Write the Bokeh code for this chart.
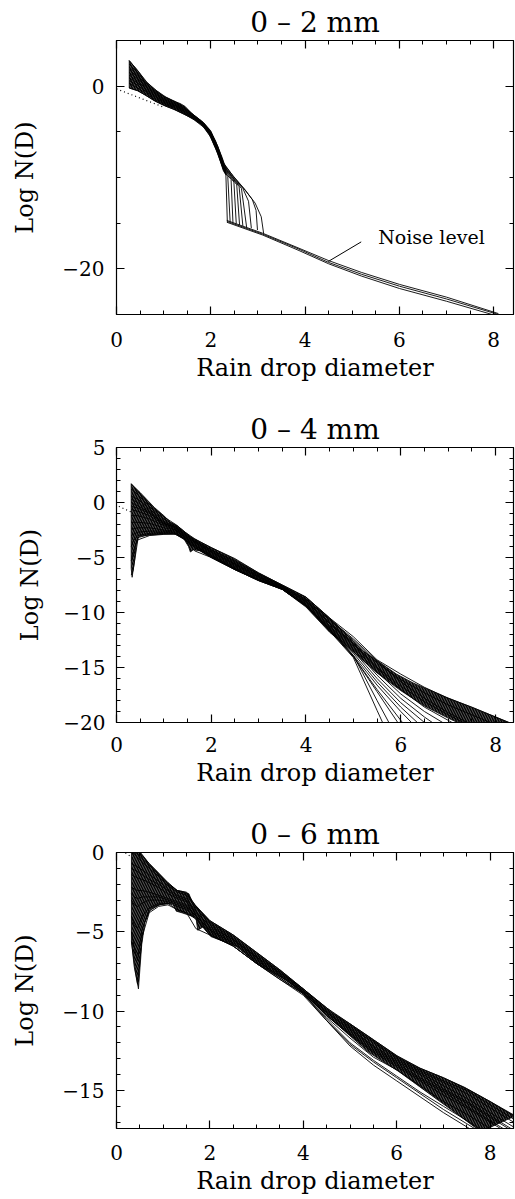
from bokeh.plotting import figure
from bokeh.layouts import column
from bokeh.models import FixedTicker, LinearAxis, Range1d, Label
from bokeh.embed import file_html
from bokeh.resources import INLINE

FONT = "DejaVu Serif"

# ---------------- shared axis ticks ----------------
X_TICKS = [0, 2, 4, 6, 8]
X_MINOR = [0.5, 1, 1.5, 2.5, 3, 3.5, 4.5, 5, 5.5, 6.5, 7, 7.5, 8.5]
X_LABEL = "Rain drop diameter"
Y_LABEL = "Log N(D)"

# ---------------- panel 1 : 0 - 2 mm ----------------
P1_TITLE = "0 – 2 mm"
P1_XRANGE = [0, 8.42]
P1_YRANGE = [-25, 5]
P1_YTICKS = [-20, 0]
P1_YMINOR = [-25, -15, -10, -5, 5]
P1_HEAD_X = [0.27, 0.45, 0.65, 0.85, 1.05, 1.25, 1.45, 1.65, 1.85, 2.0, 2.15, 2.27]
P1_HEAD_Y = [
    [2.8, 1.7, 0.4, -0.5, -1.2, -1.7, -2.35, -3.2, -4.0, -4.9, -6.6, -8.4],
    [2.4, 1.45, 0.2, -0.65, -1.3, -1.8, -2.45, -3.25, -4.05, -5.0, -6.7, -8.5],
    [2.1, 1.2, 0.05, -0.8, -1.45, -1.9, -2.5, -3.3, -4.1, -5.1, -6.8, -8.6],
    [1.8, 1.0, -0.1, -0.9, -1.55, -2.0, -2.6, -3.35, -4.15, -5.15, -6.85, -8.7],
    [1.5, 0.8, -0.25, -1.0, -1.65, -2.1, -2.65, -3.4, -4.2, -5.2, -6.9, -8.8],
    [1.2, 0.55, -0.4, -1.15, -1.75, -2.15, -2.75, -3.45, -4.25, -5.3, -7.0, -8.9],
    [0.9, 0.35, -0.55, -1.25, -1.85, -2.25, -2.8, -3.5, -4.3, -5.35, -7.1, -9.0],
    [0.6, 0.1, -0.7, -1.4, -1.95, -2.35, -2.9, -3.55, -4.35, -5.4, -7.2, -9.1],
    [0.3, -0.2, -0.9, -1.55, -2.05, -2.45, -3.0, -3.6, -4.4, -5.5, -7.3, -9.2],
    [-0.2, -0.5, -1.1, -1.7, -2.2, -2.6, -3.1, -3.7, -4.5, -5.6, -7.4, -9.3],
]
P1_DROP_X = [
    [2.48, 2.73, 2.94, 3.07, 3.12],
    [2.47, 2.72, 2.88, 2.96, 2.99],
    [2.46, 2.68, 2.80, 2.86],
    [2.45, 2.65, 2.76],
    [2.44, 2.60, 2.68],
    [2.42, 2.55, 2.61],
    [2.40, 2.49, 2.54],
    [2.36, 2.43, 2.47],
    [2.36, 2.41],
    [2.32, 2.35],
]
P1_DROP_Y = [
    [-9.9, -11.4, -12.8, -14.3, -16.1],
    [-9.8, -11.3, -12.4, -13.6, -15.75],
    [-9.9, -11.2, -12.6, -15.55],
    [-9.9, -11.2, -15.45],
    [-9.9, -11.0, -15.3],
    [-9.9, -10.8, -15.2],
    [-9.9, -10.5, -15.05],
    [-9.8, -10.2, -14.95],
    [-9.9, -14.85],
    [-9.7, -14.75],
]
P1_TAIL_X = [2.34, 3.1, 3.85, 4.5, 5.2, 6.0, 7.0, 8.1]
P1_TAIL_Y = [
    [-14.7, -16.1, -17.7, -19.1, -20.4, -21.7, -23.1, -24.9],
    [-14.8, -16.2, -17.8, -19.3, -20.6, -21.9, -23.3, -25.0],
    [-14.9, -16.3, -17.95, -19.45, -20.8, -22.15, -23.55, -25.2],
]
P1_BAND_UP_X = [0.27, 0.45, 0.62, 0.8, 1.0, 1.2, 1.35, 1.45, 1.6, 1.8, 1.96, 2.1, 2.24, 2.32]
P1_BAND_UP_Y = [2.8, 1.7, 0.5, -0.3, -1.1, -1.6, -1.9, -2.2, -3.0, -3.8, -4.7, -6.0, -7.8, -9.0]
P1_BAND_LO_X = [0.27, 0.45, 0.62, 0.8, 1.0, 1.2, 1.4, 1.6, 1.8, 1.96, 2.1, 2.24, 2.32]
P1_BAND_LO_Y = [-0.2, -0.5, -1.0, -1.6, -2.1, -2.5, -3.0, -3.5, -4.2, -5.2, -6.8, -8.7, -9.7]
P1_DOT_X = [0.0, 1.0]
P1_DOT_Y = [-0.3, -2.3]
NOISE_TEXT = "Noise level"
NOISE_POS = [5.55, -16.5]
NOISE_PTR_X = [5.19, 4.49]
NOISE_PTR_Y = [-17.05, -19.2]

# ---------------- panel 2 : 0 - 4 mm ----------------
P2_TITLE = "0 – 4 mm"
P2_XRANGE = [0, 8.38]
P2_YRANGE = [-20, 5]
P2_YTICKS = [-20, -15, -10, -5, 0, 5]
P2_YMINOR = [-19, -18, -17, -16, -14, -13, -12, -11, -9, -8, -7, -6, -4, -3, -2, -1, 1, 2, 3, 4]
P2_X = [0.31, 0.35, 0.45, 0.7, 1.0, 1.25, 1.45, 1.65, 2.0, 2.5, 3.0, 3.5, 4.0, 4.5,
        5.0, 5.5, 6.0, 6.5, 7.0, 7.5, 8.0, 8.5]
P2_Y = [
    [1.7, 1.5, 1.0, -0.2, -1.3, -2.0, -2.7, -3.3, -4.1, -5.1, -6.4, -7.5, -8.6, -10.5, -12.2, -14.3, -15.6, -16.8, -17.8, -18.6, -19.5, -20.4],
    [1.2, 1.1, 0.7, -0.4, -1.5, -2.1, -2.8, -3.4, -4.3, -5.3, -6.5, -7.6, -8.8, -10.7, -12.5, -14.6, -16.1, -17.3, -18.4, -19.3, -20.2],
    [0.3, 0.2, 0.0, -0.8, -1.8, -2.2, -2.9, -3.5, -4.3, -5.4, -6.5, -7.6, -8.8, -10.6, -12.4, -14.4, -16.3, -17.8, -19.1, -20.2],
    [0.6, 0.5, 0.3, -0.6, -1.7, -2.2, -2.9, -3.5, -4.4, -5.5, -6.6, -7.6, -8.9, -10.9, -12.8, -15.0, -16.7, -18.1, -19.3, -20.4],
    [-0.3, -0.4, -0.5, -1.0, -1.9, -2.3, -3.0, -3.6, -4.5, -5.6, -6.7, -7.7, -9.0, -11.0, -12.9, -15.1, -17.0, -18.6, -19.8, -21.0],
    [0.0, -0.1, -0.3, -0.9, -1.9, -2.3, -3.0, -3.6, -4.5, -5.6, -6.7, -7.7, -9.0, -11.0, -13.1, -15.4, -17.4, -19.0, -20.3],
    [-0.6, -0.7, -0.8, -1.2, -2.0, -2.4, -3.1, -3.7, -4.6, -5.7, -6.8, -7.7, -9.1, -11.2, -13.3, -15.7, -17.8, -19.5, -21.0],
    [-1.2, -1.2, -1.2, -1.5, -2.1, -2.5, -3.1, -3.8, -4.7, -5.8, -6.8, -7.8, -9.2, -11.3, -13.5, -16.0, -18.2, -20.0, -21.5],
    [-1.8, -1.8, -1.8, -1.9, -2.3, -2.5, -3.2, -3.9, -4.8, -5.9, -6.9, -7.8, -9.3, -11.4, -13.7, -16.3, -18.6, -20.6],
    [-2.4, -2.4, -2.3, -2.3, -2.5, -2.6, -3.2, -3.9, -4.8, -6.0, -7.0, -7.8, -9.3, -11.5, -13.9, -16.6, -19.0, -21.2],
    [-3.0, -2.9, -2.7, -2.6, -2.6, -2.7, -3.3, -4.0, -4.9, -6.1, -7.0, -7.9, -9.4, -11.6, -14.0, -17.0, -19.8, -22.5],
    [-6.6, -6.2, -3.4, -3.0, -2.9, -2.9, -3.4, -4.1, -5.0, -6.1, -7.1, -7.9, -9.4, -11.6, -14.0, -17.2, -20.4],
    [-5.3, -4.7, -3.2, -2.9, -2.8, -2.8, -3.4, -4.1, -4.9, -6.0, -7.0, -7.8, -9.3, -11.5, -13.9, -18.0, -22.0],
    [-4.0, -3.5, -3.0, -2.8, -2.7, -2.8, -3.3, -4.4, -5.0, -6.1, -7.1, -7.9, -9.4, -11.7, -14.1, -18.9, -23.6],
]
P2_BAND_UP_X = [0.31, 0.5, 0.8, 1.0, 1.14, 1.28, 1.42, 1.56, 1.77, 2.0, 2.47, 3.0, 3.5, 4.0,
                4.5, 5.21, 5.91, 6.26, 6.96, 7.66, 8.29, 8.4]
P2_BAND_UP_Y = [1.7, 0.9, -0.45, -1.2, -1.8, -2.1, -2.6, -3.1, -3.6, -4.1, -5.1, -6.4, -7.5, -8.6,
                -10.5, -13.5, -15.6, -16.4, -17.7, -18.9, -20.0, -20.2]
P2_BAND_LO_X = [0.31, 0.33, 0.36, 0.38, 0.42, 0.47, 0.6, 0.9, 1.2, 1.42, 1.52, 1.56, 1.62, 1.77,
                2.0, 2.5, 3.0, 3.5, 4.0, 4.5, 5.0, 5.5, 6.0, 6.5, 7.0, 7.3]
P2_BAND_LO_Y = [-6.0, -6.8, -5.9, -5.3, -3.8, -3.1, -3.0, -2.9, -2.8, -3.3, -4.0, -4.5, -4.3, -4.4,
                -5.0, -6.1, -7.1, -7.9, -9.5, -11.8, -13.6, -15.5, -17.1, -18.5, -19.6, -20.2]
P2_DOT_X = [0.05, 0.3]
P2_DOT_Y = [-0.35, -0.85]

# ---------------- panel 3 : 0 - 6 mm ----------------
P3_TITLE = "0 – 6 mm"
P3_XRANGE = [0, 8.5]
P3_YRANGE = [-17.4, 0]
P3_YTICKS = [-15, -10, -5, 0]
P3_YMINOR = [-17, -16, -14, -13, -12, -11, -9, -8, -7, -6, -4, -3, -2, -1]
P3_X = [0.32, 0.38, 0.45, 0.55, 0.7, 0.9, 1.1, 1.3, 1.5, 1.7, 2.0, 2.5, 3.0, 3.5, 4.0, 4.5,
        5.0, 5.5, 6.0, 6.5, 7.0, 7.5, 8.0, 8.5]
P3_Y = [
    [0.6, 0.4, 0.1, -0.2, -0.7, -1.3, -1.9, -2.4, -2.5, -3.4, -4.3, -5.2, -6.3, -7.4, -8.6, -9.8, -10.8, -11.8, -12.8, -13.6, -14.2, -14.9, -15.7, -16.6],
    [0.3, 0.1, -0.1, -0.4, -0.8, -1.4, -2.0, -2.4, -2.6, -3.4, -4.4, -5.3, -6.4, -7.5, -8.6, -9.9, -10.9, -11.9, -12.9, -13.7, -14.4, -15.0, -15.9, -16.8],
    [0.0, -0.1, -0.3, -0.6, -1.0, -1.5, -2.1, -2.5, -2.7, -3.5, -4.5, -5.4, -6.5, -7.5, -8.7, -10.0, -11.0, -12.0, -13.0, -13.8, -14.5, -15.2, -16.1, -17.0],
    [-0.7, -0.8, -0.9, -1.1, -1.4, -1.8, -2.3, -2.7, -2.9, -3.7, -4.7, -5.5, -6.6, -7.6, -8.7, -10.1, -11.1, -12.2, -13.1, -13.9, -14.7, -15.5, -16.4, -17.3],
    [-1.0, -1.1, -1.2, -1.4, -1.7, -2.0, -2.4, -2.8, -3.0, -3.8, -4.6, -5.5, -6.6, -7.6, -8.7, -10.1, -11.2, -12.3, -13.2, -14.0, -14.9, -15.7, -16.6, -17.5],
    [-1.4, -1.5, -1.6, -1.7, -1.9, -2.2, -2.6, -2.9, -3.1, -3.9, -4.8, -5.6, -6.7, -7.7, -8.8, -10.2, -11.3, -12.4, -13.3, -14.2, -15.0, -15.8, -16.7, -17.6],
    [-2.2, -2.3, -2.4, -2.4, -2.5, -2.7, -2.9, -3.1, -3.3, -4.0, -4.9, -5.7, -6.8, -7.8, -8.8, -10.3, -11.5, -12.6, -13.5, -14.4, -15.3, -16.1, -17.0, -17.9],
    [-2.6, -2.8, -2.9, -2.8, -2.8, -2.8, -3.0, -3.2, -3.4, -4.0, -4.9, -5.7, -6.8, -7.8, -8.8, -10.3, -11.4, -12.5, -13.4, -14.3, -15.1, -16.0, -16.9, -17.8],
    [-3.0, -3.3, -3.4, -3.2, -3.0, -3.0, -3.1, -3.3, -3.5, -4.1, -5.0, -5.8, -6.9, -7.9, -8.9, -10.4, -11.7, -12.9, -13.7, -14.7, -15.7, -16.5, -17.4, -18.3],
    [-4.0, -4.6, -4.8, -4.0, -3.5, -3.2, -3.2, -3.4, -3.6, -4.2, -5.1, -5.9, -7.0, -7.9, -8.9, -10.5, -12.0, -13.1, -14.1, -15.1, -16.0, -16.9, -17.8],
    [-5.0, -6.0, -6.8, -4.8, -3.7, -3.3, -3.2, -3.6, -3.8, -4.8, -5.2, -5.9, -7.0, -8.0, -8.9, -10.6, -12.1, -13.2, -14.2, -15.2, -16.2, -17.1, -18.0],
    [-5.6, -7.2, -8.3, -5.3, -3.8, -3.4, -3.3, -3.6, -3.8, -4.2, -5.2, -5.9, -7.0, -8.0, -9.0, -10.6, -12.2, -13.4, -14.4, -15.4, -16.4, -17.3, -18.2],
]
P3_BAND_UP_X = [0.32, 0.5, 0.7, 0.9, 1.1, 1.3, 1.4, 1.55, 1.62, 2.0, 2.5, 3.0, 3.5, 4.0,
                4.63, 5.0, 5.5, 6.04, 6.5, 7.0, 7.45, 8.0, 8.54]
P3_BAND_UP_Y = [0.6, 0.05, -0.7, -1.3, -1.9, -2.4, -2.45, -2.6, -3.1, -4.3, -5.2, -6.3, -7.4, -8.6,
                -10.1, -10.8, -11.8, -12.9, -13.6, -14.2, -14.8, -15.7, -16.6]
P3_BAND_LO_X = [0.32, 0.40, 0.47, 0.54, 0.61, 0.72, 0.93, 1.2, 1.28, 1.4, 1.7, 1.74, 1.85, 2.02,
                2.6, 3.0, 3.64, 4.0, 4.63, 5.4, 6.04, 6.74, 7.3, 7.8]
P3_BAND_LO_Y = [-5.6, -7.4, -8.6, -5.8, -4.4, -3.6, -3.3, -3.2, -3.7, -3.8, -4.1, -4.9, -4.7, -5.3,
                -5.95, -7.0, -8.05, -8.9, -10.6, -12.6, -13.8, -15.3, -16.5, -17.6]
P3_DOT_X = [0.05, 0.35]
P3_DOT_Y = [0.25, -0.35]


def style_axis(ax, show_labels):
    ax.axis_line_color = "black"
    ax.axis_line_width = 1.2
    ax.major_tick_line_color = "black"
    ax.minor_tick_line_color = "black"
    ax.major_tick_line_width = 1.2
    ax.major_tick_in = 8
    ax.major_tick_out = 0
    ax.minor_tick_in = 4
    ax.minor_tick_out = 0
    if show_labels:
        ax.major_label_text_font = FONT
        ax.major_label_text_font_size = "20px"
        ax.major_label_text_color = "black"
        ax.axis_label_text_font = FONT
        ax.axis_label_text_font_size = "24px"
        ax.axis_label_text_font_style = "normal"
        ax.axis_label_text_color = "black"
    else:
        ax.major_label_text_font_size = "1px"
        ax.major_label_text_color = None
        ax.major_label_text_alpha = 0
        ax.major_label_standoff = 0


def make_panel(title, xr, yr, yticks, yminor, height, borders, xstand, ystand, ylab_stand):
    top, bottom, left, right = borders
    p = figure(width=515, height=height, output_backend="svg", toolbar_location=None,
               x_range=Range1d(*xr), y_range=Range1d(*yr),
               min_border_top=top, min_border_bottom=bottom,
               min_border_left=left, min_border_right=right,
               background_fill_color="white", border_fill_color="white")
    p.outline_line_color = "black"
    p.xgrid.visible = False
    p.ygrid.visible = False
    p.title.text = title
    p.title.align = "center"
    p.title.text_font = FONT
    p.title.text_font_size = "28px"
    p.title.text_font_style = "normal"
    p.title.text_color = "black"
    p.title.standoff = 4
    xt = FixedTicker(ticks=X_TICKS, minor_ticks=X_MINOR)
    yt = FixedTicker(ticks=yticks, minor_ticks=yminor)
    p.xaxis.ticker = xt
    p.yaxis.ticker = yt
    p.xaxis.axis_label = X_LABEL
    p.yaxis.axis_label = Y_LABEL
    for ax in p.xaxis:
        style_axis(ax, True)
        ax.major_label_standoff = xstand
        ax.axis_label_standoff = 4
    for ax in p.yaxis:
        style_axis(ax, True)
        ax.major_label_standoff = ystand
        ax.axis_label_standoff = ylab_stand
        ax.major_label_overrides = {t: ("−" + str(-t) if t < 0 else str(t)) for t in yticks}
    ra = LinearAxis(ticker=yt)
    style_axis(ra, False)
    p.add_layout(ra, "right")
    ta = LinearAxis(ticker=xt)
    style_axis(ta, False)
    p.add_layout(ta, "above")
    return p


def band(p, ux, uy, lx, ly):
    p.patch(ux + lx[::-1], uy + ly[::-1], fill_color="black", line_color="black",
            line_width=0.8, hatch_pattern="\\", hatch_color="white",
            hatch_scale=5, hatch_weight=0.6, hatch_alpha=0.6)


# ---- panel 1 ----
p1 = make_panel(P1_TITLE, P1_XRANGE, P1_YRANGE, P1_YTICKS, P1_YMINOR, 400,
                (40, 86, 114, 2), 17, 12, 20)
band(p1, P1_BAND_UP_X, P1_BAND_UP_Y, P1_BAND_LO_X, P1_BAND_LO_Y)
for hy, dx, dy in zip(P1_HEAD_Y, P1_DROP_X, P1_DROP_Y):
    p1.line(P1_HEAD_X + dx, hy + dy, line_color="black", line_width=0.9)
for ty in P1_TAIL_Y:
    p1.line(P1_TAIL_X, ty, line_color="black", line_width=0.9)
p1.line(P1_DOT_X, P1_DOT_Y, line_color="black", line_dash="1 3", line_width=1.2)
p1.line(NOISE_PTR_X, NOISE_PTR_Y, line_color="black", line_width=1)
p1.add_layout(Label(x=NOISE_POS[0], y=NOISE_POS[1], text=NOISE_TEXT, text_font=FONT,
                    text_font_size="19px", text_baseline="middle", text_align="left",
                    text_color="black"))

# ---- panel 2 ----
p2 = make_panel(P2_TITLE, P2_XRANGE, P2_YRANGE, P2_YTICKS, P2_YMINOR, 400,
                (47, 78, 116, 1), 14, 11, 16)
band(p2, P2_BAND_UP_X, P2_BAND_UP_Y, P2_BAND_LO_X, P2_BAND_LO_Y)
for cy in P2_Y:
    p2.line(P2_X[:len(cy)], cy, line_color="black", line_width=0.9)
p2.line(P2_DOT_X, P2_DOT_Y, line_color="black", line_dash="1 3", line_width=1.2)

# ---- panel 3 ----
p3 = make_panel(P3_TITLE, P3_XRANGE, P3_YRANGE, P3_YTICKS, P3_YMINOR, 399,
                (52, 71, 111, 2), 16, 12, 20)
band(p3, P3_BAND_UP_X, P3_BAND_UP_Y, P3_BAND_LO_X, P3_BAND_LO_Y)
for cy in P3_Y:
    p3.line(P3_X[:len(cy)], cy, line_color="black", line_width=0.9)
p3.line(P3_DOT_X, P3_DOT_Y, line_color="black", line_dash="1 3", line_width=1.2)

layout = column(p1, p2, p3, spacing=0)
open("out.html", "w").write(file_html(layout, INLINE))
